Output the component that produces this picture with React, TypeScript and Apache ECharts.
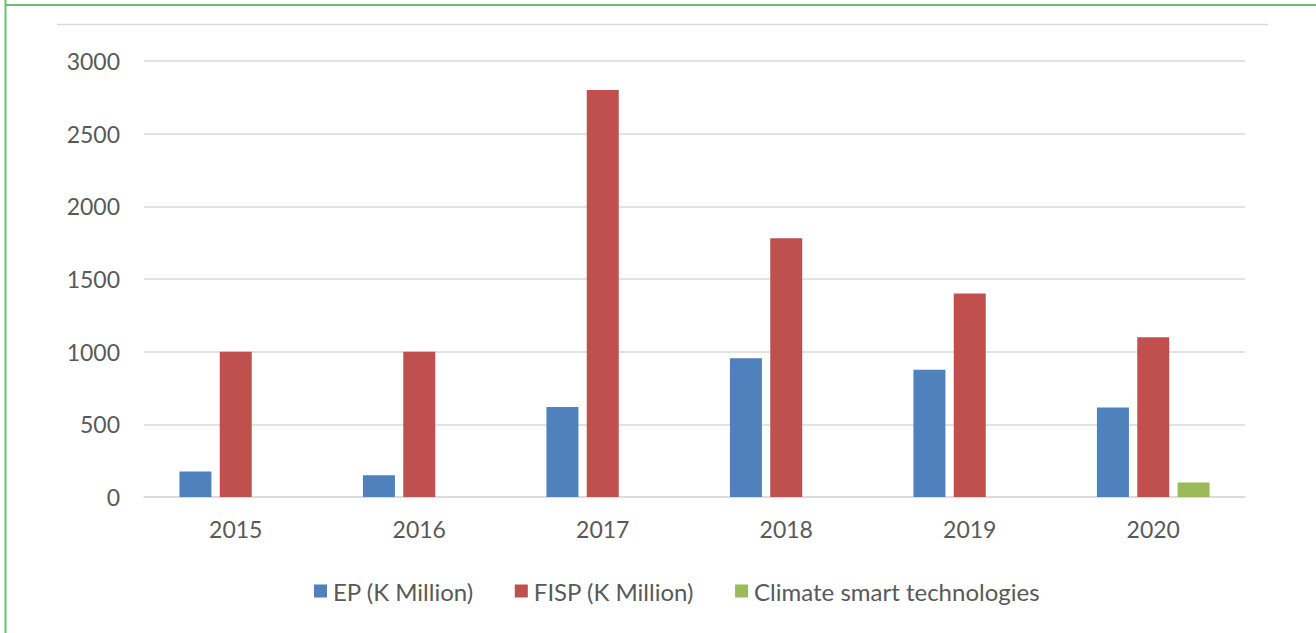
import React, { useEffect, useRef } from "react";
import * as echarts from "echarts";

const categories = ["2015", "2016", "2017", "2018", "2019", "2020"];
const epValues = [175, 150, 620, 955, 875, 615];
const fispValues = [1000, 1000, 2800, 1780, 1400, 1100];
const climateValues = [null, null, null, null, null, 100];
const seriesNames = ["EP (K Million)", "FISP (K Million)", "Climate smart technologies"];
const colors = ["#4F81BD", "#C0504D", "#9BBB59"];

export default function App() {
  const ref = useRef<HTMLDivElement>(null);
  useEffect(() => {
    if (!ref.current) return;
    const chart = echarts.init(ref.current, null, { renderer: "svg" });
    const font = "Lato";
    const textColor = "#595959";
    chart.setOption({
      animation: false,
      backgroundColor: "#ffffff",
      textStyle: { fontFamily: font },
      grid: { left: 144, right: 71, top: 61, bottom: 136 },
      graphic: [
        { type: "line", shape: { x1: 5.5, y1: 0, x2: 5.5, y2: 633 }, style: { stroke: "#6cc070", lineWidth: 2 } },
        { type: "line", shape: { x1: 5, y1: 5, x2: 1316, y2: 5 }, style: { stroke: "#6cc070", lineWidth: 2 } },
        { type: "line", shape: { x1: 57, y1: 24.5, x2: 1268, y2: 24.5 }, style: { stroke: "#d9d9d9", lineWidth: 1.5 } },
      ],
      legend: {
        data: seriesNames,
        left: 309,
        top: 574,
        icon: "rect",
        itemWidth: 13,
        itemHeight: 13,
        itemGap: 41,
        textStyle: { fontFamily: font, fontSize: 24, color: textColor, padding: [0, 0, 0, 1] },
      },
      xAxis: {
        type: "category",
        data: categories,
        axisLine: { lineStyle: { color: "#d9d9d9", width: 1.5 } },
        axisTick: { show: false },
        axisLabel: { fontFamily: font, fontSize: 23, color: textColor, margin: 20 },
      },
      yAxis: {
        type: "value",
        min: 0,
        max: 3000,
        interval: 500,
        axisLine: { show: false },
        axisTick: { show: false },
        splitLine: { lineStyle: { color: "#d9d9d9", width: 1.5 } },
        axisLabel: { fontFamily: font, fontSize: 23, color: textColor, margin: 24, formatter: (v: number) => String(v) },
      },
      series: [
        { name: seriesNames[0], type: "bar", data: epValues, itemStyle: { color: colors[0] }, barWidth: 32, barGap: "26%" },
        { name: seriesNames[1], type: "bar", data: fispValues, itemStyle: { color: colors[1] }, barWidth: 32, barGap: "26%" },
        { name: seriesNames[2], type: "bar", data: climateValues, itemStyle: { color: colors[2] }, barWidth: 32, barGap: "26%" },
      ],
    });
    return () => chart.dispose();
  }, []);
  return <div ref={ref} style={{ position: "fixed", left: 0, top: 0, width: 1316, height: 633 }} />;
}
